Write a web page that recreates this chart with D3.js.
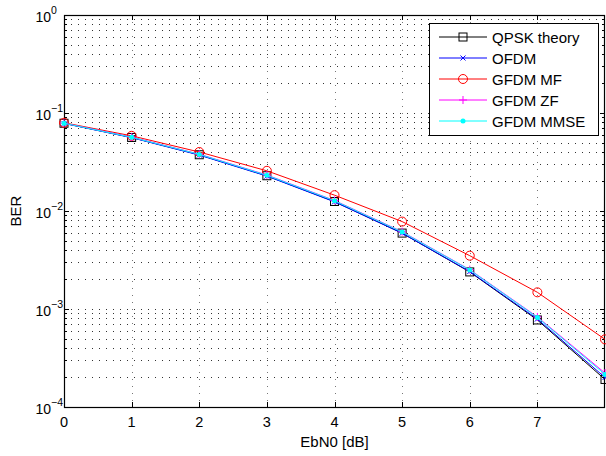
<!DOCTYPE html>
<html><head><meta charset="utf-8">
<script src="https://cdn.jsdelivr.net/npm/d3@7"></script>
<style>body{margin:0;background:#fff}svg{display:block}text{font-family:"Liberation Sans",Arial,sans-serif}</style>
</head><body><div id="c"></div>
<script>
const ebn0 = [0,1,2,3,4,5,6,7,8];
const qpsk = [0.0786,0.0563,0.0375,0.0229,0.0125,0.00595,0.00239,0.000773,0.000191];
const ofdm = [0.0783,0.0560,0.0372,0.0227,0.0124,0.00593,0.00241,0.000790,0.000200];
const gfdmMF = [0.0795,0.0585,0.0400,0.0257,0.0145,0.0078,0.0035,0.00148,0.00049];
const gfdmZF = [0.0788,0.0568,0.0380,0.0233,0.0128,0.00615,0.00252,0.00083,0.000222];
const gfdmMMSE = [0.0786,0.0565,0.0378,0.0231,0.0127,0.0061,0.00250,0.00082,0.000215];
const xTicks = [0,1,2,3,4,5,6,7];
const yTickExp = [0,-1,-2,-3,-4];
const seriesNames = ["QPSK theory","OFDM","GFDM MF","GFDM ZF","GFDM MMSE"];
const seriesColors = ["#000000","#0000ff","#ff0000","#ff00ff","#00ffff"];
const seriesMarkers = ["square","x","circle","plus","dot"];
const seriesData = [qpsk, ofdm, gfdmMF, gfdmZF, gfdmMMSE];

const W=606,H=456, L=64,R=605,T=15,B=407;
const svg=d3.select("#c").append("svg").attr("width",W).attr("height",H);
const x=d3.scaleLinear().domain([0,8]).range([L,R]);
const y=d3.scaleLog().domain([1e-4,1]).range([B,T]);

// grid
const g=svg.append("g");
const minors=[];
for(let e=-4;e<0;e++) for(let k=2;k<=9;k++) minors.push(k*Math.pow(10,e));
const majorsY=yTickExp.map(e=>Math.pow(10,e));
g.selectAll(".mg").data(minors.concat(majorsY.filter(d=>d<1&&d>1e-4))).join("line")
 .attr("x1",L).attr("x2",R).attr("y1",d=>Math.round(y(d))+0.5).attr("y2",d=>Math.round(y(d))+0.5)
 .attr("stroke","#333").attr("stroke-dasharray","1,6").attr("stroke-width",1);
g.selectAll(".Mx").data(xTicks.filter(d=>d>0)).join("line")
 .attr("x1",d=>Math.round(x(d))+0.5).attr("x2",d=>Math.round(x(d))+0.5).attr("y1",T).attr("y2",B)
 .attr("stroke","#777").attr("stroke-dasharray","1,6").attr("stroke-width",1);

// ticks (inside)
const tk=svg.append("g").attr("stroke","#000").attr("stroke-width",1);
xTicks.forEach(d=>{const px=Math.round(x(d))+0.5;
 tk.append("line").attr("x1",px).attr("x2",px).attr("y1",B).attr("y2",B-5);
 tk.append("line").attr("x1",px).attr("x2",px).attr("y1",T).attr("y2",T+5);});
majorsY.forEach(d=>{const py=Math.round(y(d))+0.5;
 tk.append("line").attr("x1",L).attr("x2",L+5).attr("y1",py).attr("y2",py);
 tk.append("line").attr("x1",R).attr("x2",R-5).attr("y1",py).attr("y2",py);});
minors.forEach(d=>{const py=Math.round(y(d))+0.5;
 tk.append("line").attr("x1",L).attr("x2",L+3).attr("y1",py).attr("y2",py);
 tk.append("line").attr("x1",R).attr("x2",R-3).attr("y1",py).attr("y2",py);});

// box
svg.append("rect").attr("x",L+0.5).attr("y",T+0.5).attr("width",R-L-1).attr("height",B-T)
 .attr("fill","none").attr("stroke","#000").attr("stroke-width",1.2);

// tick labels
svg.selectAll(".xl").data(xTicks).join("text").attr("x",d=>x(d)).attr("y",427)
 .attr("text-anchor","middle").attr("font-size",14.5).text(d=>d);
yTickExp.forEach(e=>{
 const py=y(Math.pow(10,e));
 svg.append("text").attr("x",51).attr("y",py+7).attr("text-anchor","end").attr("font-size",14).text("10");
 svg.append("text").attr("x",51).attr("y",py-1).attr("text-anchor","start").attr("font-size",10.5).text(e===0?"0":"\u2212"+(-e));
});
svg.append("text").attr("x",(L+R)/2).attr("y",447).attr("text-anchor","middle").attr("font-size",15).text("EbN0 [dB]");
svg.append("text").attr("transform","translate(21,211) rotate(-90)").attr("text-anchor","middle").attr("font-size",15).text("BER");

// markers
function marker(sel,type,color,cx,cy){
 const m=sel.append("g").attr("transform",`translate(${cx},${cy})`);
 if(type==="square") m.append("rect").attr("x",-4).attr("y",-4).attr("width",8).attr("height",8).attr("fill","none").attr("stroke",color);
 else if(type==="circle") m.append("circle").attr("r",4.5).attr("fill","none").attr("stroke",color);
 else if(type==="x"){m.append("path").attr("d","M-2.5,-2.5L2.5,2.5M-2.5,2.5L2.5,-2.5").attr("stroke",color);}
 else if(type==="plus"){m.append("path").attr("d","M-4,0L4,0M0,-4L0,4").attr("stroke",color);}
 else if(type==="dot") m.append("circle").attr("r",2.5).attr("fill",color);
}
const line=d3.line().x(d=>x(d[0])).y(d=>y(d[1]));
const plot=svg.append("g");
seriesData.forEach((vals,i)=>{
 const pts=ebn0.map((e,j)=>[e,vals[j]]);
 plot.append("path").datum(pts).attr("d",line).attr("fill","none").attr("stroke",seriesColors[i]).attr("stroke-width",1);
 pts.forEach(p=>marker(plot,seriesMarkers[i],seriesColors[i],x(p[0]),y(p[1])));
});

// legend
const lg=svg.append("g");
lg.append("rect").attr("x",429.5).attr("y",23.5).attr("width",169).attr("height",112).attr("fill","#fff").attr("stroke","#000");
seriesNames.forEach((n,i)=>{
 const cy=37+i*21;
 lg.append("line").attr("x1",439).attr("x2",487).attr("y1",cy).attr("y2",cy).attr("stroke",seriesColors[i]);
 marker(lg,seriesMarkers[i],seriesColors[i],463,cy);
 lg.append("text").attr("x",492).attr("y",cy+6).attr("font-size",15).text(n);
});
</script></body></html>
